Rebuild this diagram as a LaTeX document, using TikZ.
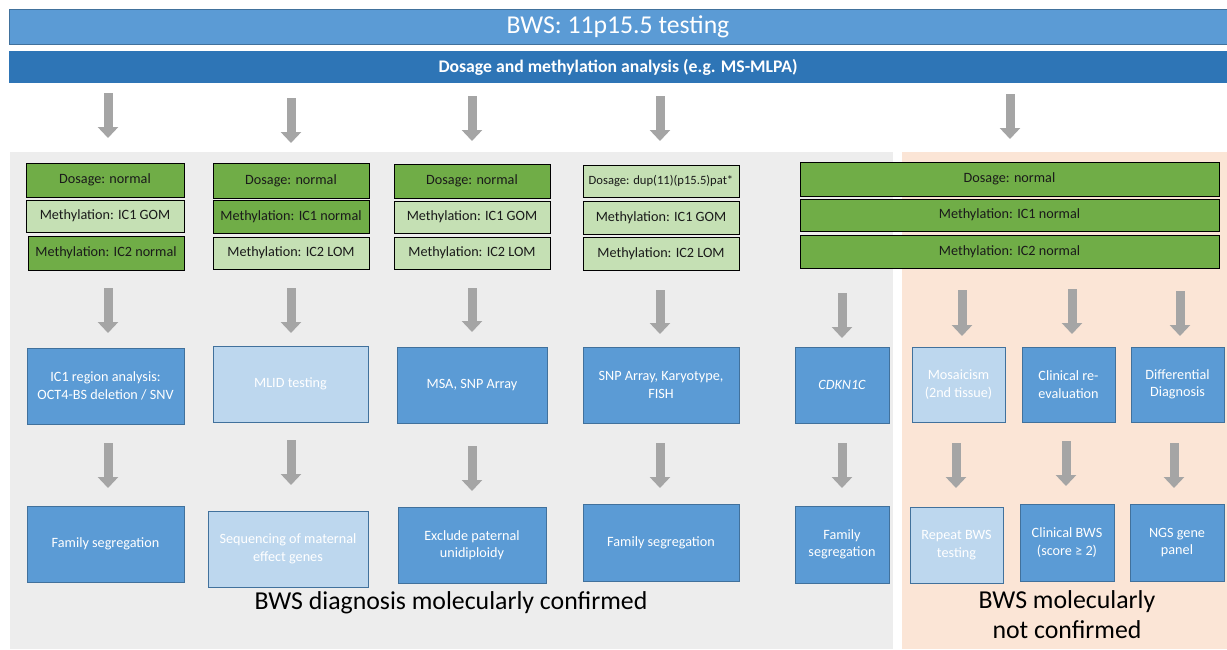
\documentclass[tikz,border=0pt]{standalone}
\usepackage{fontspec}
\setmainfont{Carlito}
\usetikzlibrary{arrows.meta}
\definecolor{topblue}{HTML}{5B9BD5}
\definecolor{bborder}{HTML}{41719C}
\definecolor{barblue}{HTML}{2E75B6}
\definecolor{bggray}{HTML}{EDEDED}
\definecolor{bgpeach}{HTML}{FBE5D6}
\definecolor{gdark}{HTML}{70AD47}
\definecolor{glight}{HTML}{C5E0B4}
\definecolor{blight}{HTML}{BDD7EE}
\definecolor{arrgray}{HTML}{A5A5A5}
\definecolor{txt}{HTML}{1A1A1A}
\begin{document}
\begin{tikzpicture}[x=1pt,y=-1pt,
  gbox/.style={draw=black, line width=0.9pt, inner sep=1pt, outer sep=0pt, text=txt, font=\fontsize{14.2}{17}\selectfont},
  dk/.style={gbox, fill=gdark},
  lt/.style={gbox, fill=glight},
  bb/.style={draw=bborder, line width=0.9pt, fill=topblue, text=white, align=center, inner sep=2pt, outer sep=0pt, font=\fontsize{14.2}{17.5}\selectfont},
  lb/.style={bb, fill=blight},
  garr/.style={draw=arrgray, line width=9pt, -{Triangle[width=20pt,length=11pt]}},
  biglabel/.style={text=black, align=center, font=\fontsize{25.8}{30}\selectfont}
]
\useasboundingbox (0,0) rectangle (1227,649);

% backgrounds
\fill[bggray] (10,152) rectangle (893,649);
\fill[bgpeach] (902,152) rectangle (1227,649);

% top bars
\node[draw=bborder, line width=1pt, fill=topblue, text=white, minimum width=1218pt, minimum height=35pt, inner sep=0pt, font=\fontsize{25.7}{28}\selectfont] (title) at (618,26.5) {BWS: 11p15.5 testing};
\node[fill=barblue, text=white, minimum width=1218pt, minimum height=32pt, inner sep=0pt, font=\bfseries\fontsize{17.7}{20}\selectfont] (bar) at (618,67) {Dosage and methylation analysis (e.g. MS-MLPA)};

% column 1 result boxes
\node[dk, minimum width=158pt, minimum height=34pt] (c1d) at (105,180) {Dosage: normal};
\node[lt, minimum width=158pt, minimum height=32pt] (c1a) at (105,216) {Methylation: IC1 GOM};
\node[dk, minimum width=156pt, minimum height=34pt] (c1b) at (106,253) {Methylation: IC2 normal};
% column 2
\node[dk, minimum width=156pt, minimum height=35pt] (c2d) at (291,180.5) {Dosage: normal};
\node[dk, minimum width=156pt, minimum height=33pt] (c2a) at (291,216.5) {Methylation: IC1 normal};
\node[lt, minimum width=156pt, minimum height=32pt] (c2b) at (291,253) {Methylation: IC2 LOM};
% column 3
\node[dk, minimum width=156pt, minimum height=34pt] (c3d) at (472,181) {Dosage: normal};
\node[lt, minimum width=156pt, minimum height=32pt] (c3a) at (472,217) {Methylation: IC1 GOM};
\node[lt, minimum width=156pt, minimum height=32pt] (c3b) at (472,253) {Methylation: IC2 LOM};
% column 4
\node[lt, minimum width=156pt, minimum height=32pt, font=\fontsize{12.6}{15}\selectfont] (c4d) at (661,181) {Dosage: dup(11)(p15.5)pat*};
\node[lt, minimum width=156pt, minimum height=33pt] (c4a) at (661,217.5) {Methylation: IC1 GOM};
\node[lt, minimum width=156pt, minimum height=33pt] (c4b) at (661,253.5) {Methylation: IC2 LOM};
% column 5
\node[dk, minimum width=419pt, minimum height=34pt] (c5d) at (1009.5,179) {Dosage: normal};
\node[dk, minimum width=419pt, minimum height=32pt] (c5a) at (1009.5,215) {Methylation: IC1 normal};
\node[dk, minimum width=419pt, minimum height=33pt] (c5b) at (1009.5,251.5) {Methylation: IC2 normal};

% row 2 boxes
\node[bb, minimum width=157pt, minimum height=76pt] (b1) at (105.5,386) {IC1 region analysis:\\OCT4-BS deletion / SNV};
\node[lb, minimum width=155pt, minimum height=76pt] (b2) at (290.5,384) {MLID testing};
\node[bb, minimum width=150pt, minimum height=76pt] (b3) at (472,385) {MSA, SNP Array};
\node[bb, minimum width=156pt, minimum height=76pt] (b4) at (661,385) {SNP Array, Karyotype,\\FISH};
\node[bb, minimum width=94pt, minimum height=76pt] (b5) at (842,385) {\itshape CDKN1C};
\node[lb, minimum width=93pt, minimum height=75pt] (p1) at (958.5,384.5) {Mosaicism\\(2nd tissue)};
\node[bb, minimum width=93pt, minimum height=75pt] (p2) at (1068.5,384.5) {Clinical re-\\evaluation};
\node[bb, minimum width=93pt, minimum height=75pt] (p3) at (1177.5,384.5) {Differential\\Diagnosis};

% row 3 boxes
\node[bb, minimum width=157pt, minimum height=76pt] (r1) at (105.5,544) {Family segregation};
\node[lb, minimum width=160pt, minimum height=76pt] (r2) at (288,549) {Sequencing of maternal\\effect genes};
\node[bb, minimum width=148pt, minimum height=76pt] (r3) at (472,545) {Exclude paternal\\unidiploidy};
\node[bb, minimum width=156pt, minimum height=77pt] (r4) at (661,542.5) {Family segregation};
\node[bb, minimum width=94pt, minimum height=77pt] (r5) at (842,544.5) {Family\\segregation};
\node[lb, minimum width=93pt, minimum height=76pt] (q1) at (956.5,545) {Repeat BWS\\testing};
\node[bb, minimum width=94pt, minimum height=77pt] (q2) at (1067,542.5) {Clinical BWS\\(score ≥ 2)};
\node[bb, minimum width=94pt, minimum height=77pt] (q3) at (1177,542.5) {NGS gene\\panel};

% labels
\node[biglabel] (lconf) at (451,603) {BWS diagnosis molecularly confirmed};
\node[biglabel] (lnot) at (1067,615) {BWS molecularly\\not confirmed};

% arrow coordinates
\coordinate (t1s) at (108,93);  \coordinate (t1e) at (108,138);
\coordinate (t2s) at (291,98);  \coordinate (t2e) at (291,143);
\coordinate (t3s) at (472,96);  \coordinate (t3e) at (472,141);
\coordinate (t4s) at (660,96);  \coordinate (t4e) at (660,141);
\coordinate (t5s) at (1010,94); \coordinate (t5e) at (1010,139);

\coordinate (m1s) at (108,288);  \coordinate (m1e) at (108,333);
\coordinate (m2s) at (291,288);  \coordinate (m2e) at (291,333);
\coordinate (m3s) at (472,288);  \coordinate (m3e) at (472,332);
\coordinate (m4s) at (660,290);  \coordinate (m4e) at (660,334);
\coordinate (m5s) at (842,293);  \coordinate (m5e) at (842,338);
\coordinate (m6s) at (962,290);  \coordinate (m6e) at (962,336);
\coordinate (m7s) at (1072,289); \coordinate (m7e) at (1072,334);
\coordinate (m8s) at (1180,291); \coordinate (m8e) at (1180,336);

\coordinate (n1s) at (108,443);  \coordinate (n1e) at (108,488);
\coordinate (n2s) at (291,440);  \coordinate (n2e) at (291,485);
\coordinate (n3s) at (472,446);  \coordinate (n3e) at (472,491);
\coordinate (n4s) at (660,443);  \coordinate (n4e) at (660,488);
\coordinate (n5s) at (842,443);  \coordinate (n5e) at (842,488);
\coordinate (n6s) at (956,443);  \coordinate (n6e) at (956,488);
\coordinate (n7s) at (1066,441); \coordinate (n7e) at (1066,486);
\coordinate (n8s) at (1174,443); \coordinate (n8e) at (1174,488);

\foreach \p in {t1,t2,t3,t4,t5,m1,m2,m3,m4,m5,m6,m7,m8,n1,n2,n3,n4,n5,n6,n7,n8}
  \draw[garr] (\p s) -- (\p e);
\end{tikzpicture}
\end{document}
